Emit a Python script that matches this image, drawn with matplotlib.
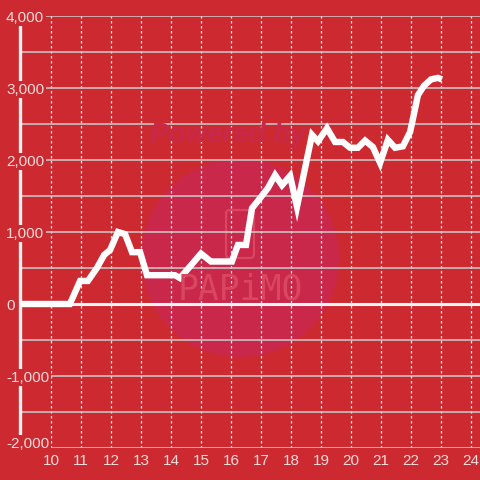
import matplotlib
matplotlib.use("Agg")
import matplotlib.pyplot as plt
import matplotlib.patches as mpatches

# ---------------------------------------------------------------------------
# Data
# ---------------------------------------------------------------------------
hours = [9.0, 10.63, 10.97, 11.23, 11.53, 11.77, 11.97, 12.23, 12.47, 12.70,
         12.97, 13.20, 14.13, 14.30, 15.00, 15.33, 16.03, 16.23, 16.50, 16.70,
         16.97, 17.23, 17.47, 17.70, 17.97, 18.20, 18.70, 18.90, 19.20, 19.47,
         19.73, 19.97, 20.23, 20.47, 20.73, 20.97, 21.23, 21.47, 21.73, 21.97,
         22.13, 22.23, 22.43, 22.67, 22.90, 23.03]
balance = [0, 0, 320, 320, 500, 680, 750, 1000, 970, 720,
           720, 400, 400, 360, 700, 590, 590, 820, 820, 1330,
           1470, 1610, 1790, 1650, 1780, 1350, 2350, 2260, 2440, 2250,
           2250, 2170, 2170, 2270, 2180, 1960, 2280, 2170, 2190, 2390,
           2700, 2900, 3030, 3120, 3140, 3120]

x_ticks = list(range(10, 25))
y_grid = list(range(-2000, 4001, 500))
y_labels = [-2000, -1000, 0, 1000, 2000, 3000, 4000]

BG = "#cc2a30"
TXT = "#f3dcdc"
plt.rcParams["font.family"] = ["Liberation Sans", "DejaVu Sans"]

fig = plt.figure(figsize=(4.8, 4.8), dpi=100, facecolor=BG)
ax = fig.add_axes([20 / 480, 32 / 480, 460 / 480, 432 / 480])
ax.set_facecolor(BG)
ax.set_xlim(8.967, 24.3)
ax.set_ylim(-2000, 4000)

# watermark
ax.add_patch(mpatches.Circle((240 / 480, 1 - 258 / 480), 99 / 480,
                             transform=fig.transFigure, color="#c9284a",
                             zorder=0.5, lw=0))
fig.text(150 / 480, 1 - 135 / 480, "Powered by", fontsize=20, fontweight="bold",
         fontstyle="italic", color="#c8284a", va="center", ha="left", zorder=0.6)
ax.add_patch(mpatches.FancyBboxPatch((226 / 480, 1 - 258 / 480), 28 / 480, 48 / 480,
                                     boxstyle="round,pad=0,rounding_size=0.008",
                                     transform=fig.transFigure, fill=False,
                                     ec="#d8475f", lw=1.6, zorder=0.6))
fig.text(240 / 480, 1 - 290 / 480, "PAPiMO", fontsize=25, color="#d8475f",
         family="DejaVu Sans Mono", va="center", ha="center", zorder=0.6)

# grid
ax.set_yticks(y_grid)
ax.set_yticklabels([])
ax.set_xticks(x_ticks)
ax.grid(axis="y", color="#cfcfcf", lw=1.1)
ax.grid(axis="x", color="#ececec", lw=0.9, linestyle=(0, (2, 2)))
ax.tick_params(axis="both", length=0)
ax.tick_params(axis="x", colors=TXT, labelsize=11, pad=4)

for s in ["top", "right", "bottom"]:
    ax.spines[s].set_visible(False)
ax.spines["left"].set_color("#f0f0f0")
ax.spines["left"].set_linewidth(2.4)

ax.axhline(0, color="#f5f5f5", lw=2.2, zorder=2)

for v in y_labels:
    va = "baseline" if v == -2000 else "center_baseline"
    ax.text(-0.0304, v, f"{v:,}", transform=ax.get_yaxis_transform(),
            ha="left", va=va, fontsize=11, color=TXT, clip_on=False, zorder=3,
            bbox=dict(facecolor=BG, edgecolor="none", pad=1.2))

ax.plot(hours, balance, color="white", lw=4.6, zorder=4,
        solid_joinstyle="miter", solid_capstyle="butt")

fig.savefig("out.png", dpi=100, facecolor=BG)
